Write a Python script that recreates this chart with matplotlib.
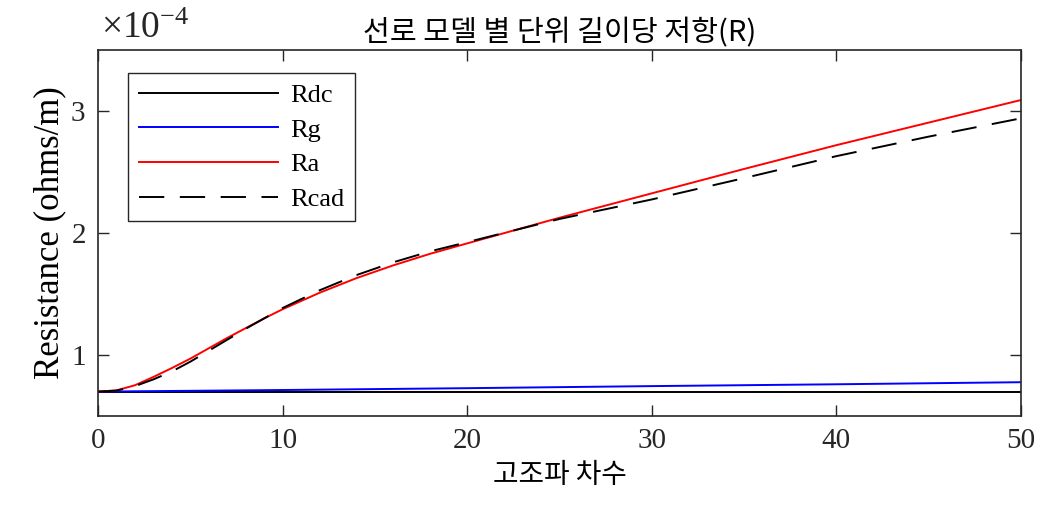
import matplotlib
matplotlib.use('Agg')
import matplotlib.pyplot as plt
from matplotlib.ticker import ScalarFormatter

plt.rcParams['font.family'] = ['Liberation Serif', 'Noto Sans CJK KR']
plt.rcParams['mathtext.fontset'] = 'custom'
plt.rcParams['mathtext.rm'] = 'Liberation Serif'
plt.rcParams['mathtext.it'] = 'Liberation Serif:italic'

# harmonic order and resistance values (x 1e-4 ohms/m)
order = [0, 1, 2, 3, 4, 5, 6, 7, 8, 9, 10, 12, 14, 16, 18, 20, 25, 30, 35, 40, 45, 50]
r_a = [0.700, 0.710, 0.752, 0.820, 0.893, 0.970, 1.055, 1.140, 1.220, 1.300, 1.375,
       1.510, 1.630, 1.735, 1.830, 1.915, 2.125, 2.325, 2.525, 2.720, 2.905, 3.090]
r_cad = [0.700, 0.708, 0.745, 0.800, 0.865, 0.945, 1.035, 1.125, 1.215, 1.300, 1.385,
         1.530, 1.655, 1.760, 1.850, 1.925, 2.115, 2.275, 2.450, 2.630, 2.790, 2.940]
order_g = [0, 10, 20, 30, 40, 50]
r_g = [0.700, 0.713, 0.728, 0.745, 0.760, 0.777]
r_dc = [0.700, 0.700]
order_dc = [0, 50]

scale = 1e-4

fig = plt.figure(figsize=(10.4, 5.2), dpi=100)
ax = fig.add_axes([98 / 1040, 104 / 520, 923 / 1040, 366 / 520])

ax.plot(order_dc, [v * scale for v in r_dc], color='black', lw=1.4, label='Rdc')
ax.plot(order_g, [v * scale for v in r_g], color='#0000ff', lw=1.4, label='Rg')
ax.plot(order, [v * scale for v in r_a], color='#ff0000', lw=1.4, label='Ra')
ax.plot(order, [v * scale for v in r_cad], color='black', lw=1.4, dashes=(13, 8), label='Rcad')

ax.set_xlim(0, 50)
ax.set_ylim(0.5e-4, 3.5e-4)
ax.set_xticks([0, 10, 20, 30, 40, 50])
ax.set_yticks([1e-4, 2e-4, 3e-4])

fmt = ScalarFormatter(useMathText=True)
fmt.set_powerlimits((-3, 3))
ax.yaxis.set_major_formatter(fmt)
ax.yaxis.get_offset_text().set_visible(False)
ax.text(0.003, 1.012, r'$\times10^{\mathrm{-4}}$', transform=ax.transAxes, fontsize=27,
        ha='left', va='bottom', color='#262626')

ax.tick_params(direction='in', top=True, right=True, labelsize=21, length=8,
               width=1, colors='#262626', pad=9)
for s in ax.spines.values():
    s.set_color('#262626')
    s.set_linewidth(1.2)

ax.set_title('선로 모델 별 단위 길이당 저항(R)', fontsize=21, pad=6,
             family=['Noto Sans CJK KR', 'Liberation Serif'])
ax.set_xlabel('고조파 차수', fontsize=20, labelpad=4,
              family=['Noto Sans CJK KR', 'Liberation Serif'])
ax.set_ylabel('Resistance (ohms/m)', fontsize=25, labelpad=3)

leg = ax.legend(loc='upper left', bbox_to_anchor=(0.0325, 0.937), borderaxespad=0,
                fontsize=19, handlelength=5.3, handletextpad=0.45, labelspacing=0.42,
                fancybox=False, framealpha=1, edgecolor='#262626', borderpad=0.4)
leg.get_frame().set_linewidth(1.0)

fig.savefig('out.png', dpi=100)
